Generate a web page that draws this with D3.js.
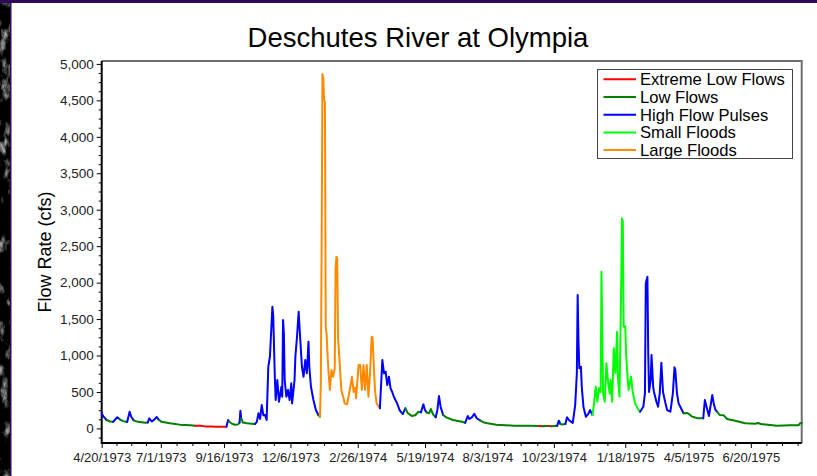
<!DOCTYPE html>
<html>
<head>
<meta charset="utf-8">
<script src="https://cdnjs.cloudflare.com/ajax/libs/d3/7.8.5/d3.min.js"></script>
<style>
  body { margin: 0; background: #fff; }
  svg { display: block; font-family: "Liberation Sans", Arial, sans-serif; }
</style>
</head>
<body>
<div id="chart"></div>
<script>
var startDate = new Date(Date.UTC(1973, 3, 20));
var endDay = 853;

var flowDays = [
  0, 2, 6, 10, 14, 17, 19, 22, 26, 31,
  33, 34, 36, 39, 44, 53, 56, 58, 61, 64,
  67, 70, 73, 83, 95, 108, 114, 120, 126, 130,
  134, 138, 145, 152, 154, 155, 158, 162, 166, 168,
  169, 170, 172, 177, 183, 187, 189, 191, 193, 195,
  197, 199, 201, 203, 205, 208, 209, 211, 212, 214,
  216, 219, 220, 221, 222, 223, 225, 227, 229, 231,
  232, 235, 236, 238, 240, 242, 244, 246, 248, 250,
  252, 253, 255, 258, 261, 264, 266, 267, 268, 269,
  270, 271, 272, 273, 274, 276, 278, 280, 282, 284,
  285, 286, 287, 288, 290, 292, 295, 296, 299, 303,
  305, 307, 309, 310, 313, 315, 317, 319, 321, 323,
  325, 327, 329, 330, 333, 335, 339, 342, 344, 346,
  348, 350, 352, 354, 356, 360, 363, 366, 367, 370,
  373, 378, 382, 386, 389, 392, 394, 396, 399, 401,
  404, 407, 409, 411, 413, 416, 420, 428, 439, 443,
  446, 448, 451, 454, 457, 461, 465, 470, 481, 492,
  502, 512, 522, 533, 537, 540, 545, 548, 551, 555,
  557, 559, 561, 565, 567, 569, 571, 574, 577, 579,
  580, 581, 582, 584, 585, 587, 590, 593, 595, 598,
  600, 602, 604, 606, 608, 609, 611, 613, 615, 617,
  619, 620, 622, 624, 626, 628, 629, 631, 633, 634,
  635, 636, 638, 639, 641, 642, 645, 647, 650, 653,
  656, 660, 662, 663, 665, 666, 667, 669, 670, 672,
  673, 676, 678, 680, 682, 684, 687, 689, 693, 696,
  698, 699, 701, 703, 707, 709, 713, 716, 719, 723,
  727, 733, 735, 737, 740, 744, 746, 748, 750, 753,
  758, 762, 772, 784, 796, 800, 804, 806, 823, 839,
  849, 851, 853
];

var flowCfs = [
  207, 165, 115, 95, 90, 130, 152, 125, 100, 88,
  180, 229, 160, 110, 90, 78, 80, 138, 95, 120,
  156, 115, 90, 70, 52, 42, 37, 35, 28, 25,
  27, 23, 23, 24, 115, 95, 70, 50, 55, 80,
  243, 140, 80, 70, 65, 62, 90, 207, 130, 321,
  180, 184, 115, 846, 983, 1670, 1550, 687, 390, 664,
  366, 572, 435, 1487, 1300, 664, 435, 527, 390, 619,
  344, 664, 983, 1258, 1601, 1213, 846, 709, 938, 756,
  1190, 846, 572, 390, 252, 184, 160, 600, 2450, 4860,
  4800, 4500, 4480, 1395, 1300, 846, 527, 801, 709, 824,
  2200, 2355, 2330, 1258, 893, 527, 400, 344, 330, 572,
  709, 500, 560, 413, 870, 870, 527, 870, 527, 870,
  435, 756, 1258, 1250, 527, 344, 276, 938, 756, 778,
  595, 709, 550, 500, 435, 344, 252, 207, 200, 276,
  210, 170, 180, 229, 220, 330, 250, 220, 207, 266,
  190, 152, 250, 444, 298, 184, 152, 115, 92, 78,
  170, 130, 150, 200, 140, 110, 85, 70, 50, 44,
  38, 36, 35, 34, 30, 33, 33, 30, 33, 35,
  106, 60, 55, 60, 152, 120, 100, 75, 321, 756,
  1830, 1200, 824, 846, 572, 298, 160, 200, 252, 184,
  344, 572, 366, 550, 500, 2150, 481, 366, 893, 641,
  480, 664, 366, 1099, 756, 1327, 709, 435, 1944, 2882,
  2850, 1395, 1400, 1030, 664, 527, 709, 504, 344, 276,
  229, 298, 481, 1990, 2081, 1030, 500, 664, 1007, 572,
  500, 366, 298, 481, 901, 500, 344, 252, 229, 481,
  838, 800, 481, 344, 252, 207, 212, 195, 165, 150,
  138, 138, 390, 298, 170, 458, 330, 252, 229, 184,
  180, 129, 106, 70, 65, 75, 58, 56, 37, 42,
  42, 70, 75
];

// flow event class; each class run starts on the given day
var classStartDays = [0, 10, 17, 26, 33, 44, 58, 73, 120, 154, 158, 169, 172, 189,
  266, 267, 342, 367, 370, 373, 392, 399, 409, 420, 446, 465, 537, 540, 548, 551,
  557, 561, 567, 600, 660, 713, 735, 753];
var classCodes = ["H", "L", "H", "L", "H", "L", "H", "L", "X", "H", "L", "H", "L", "H",
  "L", "F", "H", "L", "H", "L", "H", "L", "H", "L", "H", "L", "X", "L", "X", "L",
  "H", "L", "H", "S", "H", "L", "H", "L"];

var eventCodes = ["X", "L", "H", "S", "F"];
var eventNames = ["Extreme Low Flows", "Low Flows", "High Flow Pulses", "Small Floods", "Large Floods"];
var eventColors = ["#ff0000", "#008000", "#0000ff", "#00ff00", "#ff8a00"];

var xTickLabels = ["4/20/1973", "7/1/1973", "9/16/1973", "12/6/1973", "2/26/1974", "5/19/1974",
  "8/3/1974", "10/23/1974", "1/18/1975", "4/5/1975", "6/20/1975"];
var yTickValues = [0, 500, 1000, 1500, 2000, 2500, 3000, 3500, 4000, 4500, 5000];

var width = 817, height = 476;
var plot = {left: 101.7, right: 801.7, top: 61, bottom: 443};

var svg = d3.select("#chart")
  .append("svg")
  .attr("width", width)
  .attr("height", height);

// page background: dark purple band and a marbled strip on the left
var defs = svg.append("defs");
var marble = defs.append("filter").attr("id", "marble")
  .attr("x", 0).attr("y", 0).attr("width", "100%").attr("height", "100%")
  .attr("color-interpolation-filters", "sRGB");
marble.append("feTurbulence")
  .attr("type", "fractalNoise").attr("baseFrequency", "0.09 0.05")
  .attr("numOctaves", 4).attr("seed", 7);
marble.append("feColorMatrix").attr("type", "matrix")
  .attr("values", "2.6 0 0 0 -1.4  2.6 0 0 0 -1.4  2.6 0 0 0 -1.4  0 0 0 0 1");

svg.append("rect").attr("width", width).attr("height", height).attr("fill", "#ffffff");
svg.append("rect").attr("x", 0).attr("y", 0).attr("width", 10).attr("height", height)
  .attr("filter", "url(#marble)");
svg.append("rect").attr("x", 10).attr("y", 0).attr("width", 1.5).attr("height", height).attr("fill", "#2d0b5a");
svg.append("rect").attr("x", 0).attr("y", 0).attr("width", width).attr("height", 3).attr("fill", "#2d0b5a");

// scales
var parseLabel = d3.utcParse("%m/%d/%Y");
var formatLabel = d3.utcFormat("%-m/%-d/%Y");
var majorDates = xTickLabels.map(parseLabel);
var endDate = d3.utcDay.offset(startDate, endDay);

var x = d3.scaleUtc().domain([startDate, endDate]).range([plot.left, plot.right]);
var y = d3.scaleLinear().domain([-200, 5040]).range([plot.bottom, plot.top]);

// minor ticks: four steps between labelled dates, same step after the last one
var minorDates = [];
for (var i = 0; i < majorDates.length - 1; i++) {
  var a = majorDates[i].getTime(), b = majorDates[i + 1].getTime();
  for (var k = 1; k < 4; k++) minorDates.push(new Date(a + (b - a) * k / 4));
}
var lastStep = (majorDates[majorDates.length - 1] - majorDates[majorDates.length - 2]) / 4;
for (var t = majorDates[majorDates.length - 1].getTime() + lastStep; t <= endDate.getTime(); t += lastStep) {
  minorDates.push(new Date(t));
}

// x axis
var xMinor = svg.append("g")
  .attr("transform", `translate(0, ${plot.bottom})`)
  .call(d3.axisBottom(x).tickValues(minorDates).tickSize(3).tickFormat(""));
xMinor.select(".domain").remove();

var xAxis = svg.append("g")
  .attr("transform", `translate(0, ${plot.bottom})`)
  .call(d3.axisBottom(x).tickValues(majorDates).tickSize(5).tickPadding(5).tickFormat(formatLabel));
xAxis.select(".domain").remove();
xAxis.selectAll("text").attr("font-size", 13).attr("fill", "#222");

// y axis
var yMinorValues = d3.range(-125, 5040, 125).filter(v => v % 500 !== 0);
var yMinor = svg.append("g")
  .attr("transform", `translate(${plot.left}, 0)`)
  .call(d3.axisLeft(y).tickValues(yMinorValues).tickSize(3).tickFormat(""));
yMinor.select(".domain").remove();

var yAxis = svg.append("g")
  .attr("transform", `translate(${plot.left}, 0)`)
  .call(d3.axisLeft(y).tickValues(yTickValues).tickSize(5).tickPadding(3).tickFormat(d3.format(",")));
yAxis.select(".domain").remove();
yAxis.selectAll("text").attr("font-size", 13.5).attr("fill", "#222");

svg.selectAll(".tick line").attr("stroke", "#000");
svg.selectAll(".tick text").attr("font-family", "'Liberation Sans', Arial, sans-serif");

// plot frame
svg.append("path")
  .attr("d", `M${plot.left},${plot.top}H${plot.right}V${plot.bottom}`)
  .attr("fill", "none").attr("stroke", "#6e6e6e").attr("stroke-width", 2);
svg.append("path")
  .attr("d", `M${plot.left},${plot.top}V${plot.bottom}H${plot.right}`)
  .attr("fill", "none").attr("stroke", "#000").attr("stroke-width", 2);

// flow line, split into coloured runs by event class
function codeOn(day) {
  var c = classCodes[0];
  for (var j = 0; j < classStartDays.length; j++) {
    if (classStartDays[j] <= day) c = classCodes[j];
  }
  return c;
}

var points = flowDays.map(function(d, i) {
  return {date: d3.utcDay.offset(startDate, d), flow: flowCfs[i], code: codeOn(d)};
});

var pieces = [{code: points[0].code, pts: [points[0]]}];
for (var p = 1; p < points.length; p++) {
  var cur = pieces[pieces.length - 1];
  if (points[p].code === cur.code) {
    cur.pts.push(points[p]);
  } else {
    pieces.push({code: points[p].code, pts: [points[p - 1], points[p]]});
  }
}

var line = d3.line()
  .x(d => x(d.date))
  .y(d => y(d.flow));

svg.append("g")
  .selectAll("path")
  .data(pieces)
  .enter()
  .append("path")
    .attr("d", d => line(d.pts))
    .attr("fill", "none")
    .attr("stroke", d => eventColors[eventCodes.indexOf(d.code)])
    .attr("stroke-width", 2)
    .attr("stroke-linejoin", "round")
    .attr("stroke-linecap", "round");

// title and y label
svg.append("text")
  .attr("x", 418).attr("y", 47)
  .attr("text-anchor", "middle")
  .attr("font-size", 27.5)
  .attr("fill", "#000")
  .text("Deschutes River at Olympia");

svg.append("text")
  .attr("transform", "translate(51, 252) rotate(-90)")
  .attr("text-anchor", "middle")
  .attr("font-size", 18)
  .attr("fill", "#000")
  .text("Flow Rate (cfs)");

// legend
var legend = svg.append("g").attr("transform", "translate(597.5, 69.5)");
legend.append("rect")
  .attr("width", 195).attr("height", 89)
  .attr("fill", "#fff").attr("stroke", "#444").attr("stroke-width", 1);

var items = legend.selectAll("g.item")
  .data(eventNames)
  .enter()
  .append("g")
    .attr("class", "item")
    .attr("transform", (d, i) => `translate(0, ${9.8 + i * 17.7})`);

items.append("line")
  .attr("x1", 6).attr("x2", 38.5)
  .attr("stroke", (d, i) => eventColors[i])
  .attr("stroke-width", 2);

items.append("text")
  .attr("x", 42.5).attr("y", 5.8)
  .attr("font-size", 16.6)
  .attr("fill", "#000")
  .text(d => d);
</script>
</body>
</html>
